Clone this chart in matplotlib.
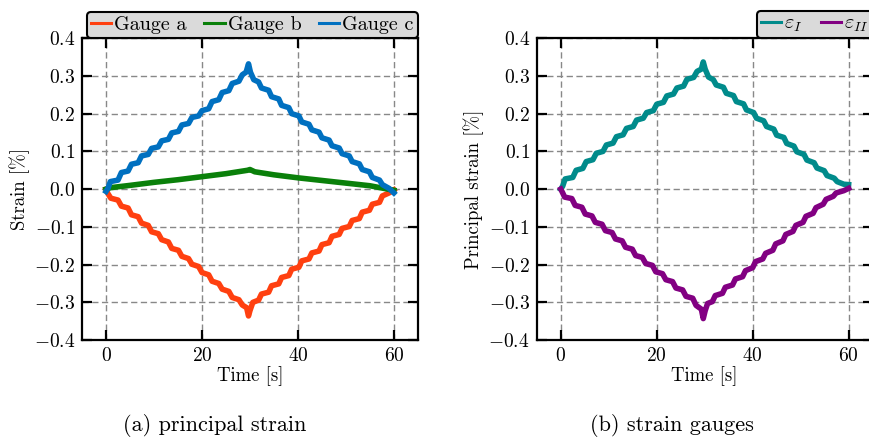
import matplotlib
matplotlib.use("Agg")
import matplotlib.pyplot as plt
from matplotlib.lines import Line2D

plt.rcParams['font.family'] = ['cmr10', 'DejaVu Serif']
plt.rcParams['mathtext.fontset'] = 'cm'
plt.rcParams['axes.formatter.use_mathtext'] = True
plt.rcParams['axes.unicode_minus'] = True

# Gauge a (time [s], strain [%])
t_a = [0, 0.4, 1.0, 2.5, 3.2, 4.6, 5.3, 6.7, 7.4, 8.8, 9.5, 10.9, 11.6, 13.0, 13.7,
       15.1, 15.8, 17.2, 17.9, 19.3, 20.0, 21.4, 22.1, 23.5, 24.2, 25.6, 26.3, 27.7,
       28.4, 29.3, 29.7, 30.0, 30.6, 31.8, 32.4, 33.9, 34.5, 36.0, 36.6, 38.1, 38.7,
       40.2, 40.8, 42.3, 42.9, 44.4, 45.0, 46.5, 47.1, 48.6, 49.2, 50.7, 51.3, 52.8,
       53.4, 54.9, 55.5, 57.0, 57.6, 59.0, 60.0]
v_a = [0.0, -0.012, -0.024, -0.029, -0.045, -0.050, -0.068, -0.073, -0.090, -0.096,
       -0.113, -0.118, -0.134, -0.140, -0.157, -0.162, -0.178, -0.184, -0.199, -0.205,
       -0.221, -0.227, -0.244, -0.250, -0.265, -0.271, -0.287, -0.293, -0.307, -0.314,
       -0.336, -0.322, -0.300, -0.294, -0.278, -0.273, -0.256, -0.251, -0.234, -0.229,
       -0.212, -0.207, -0.190, -0.185, -0.169, -0.164, -0.147, -0.142, -0.125, -0.120,
       -0.104, -0.099, -0.083, -0.078, -0.061, -0.056, -0.040, -0.035, -0.018, -0.010,
       -0.002]

# Gauge b
t_b = [0, 1, 5, 10, 15, 20, 25, 29.5, 30, 31, 35, 40, 45, 50, 55, 60]
v_b = [0.0, 0.004, 0.010, 0.018, 0.025, 0.033, 0.041, 0.050, 0.052, 0.046, 0.038,
       0.030, 0.023, 0.016, 0.009, -0.003]

# Gauge c
t_c = [0, 0.4, 0.9, 2.5, 3.2, 4.6, 5.3, 6.7, 7.4, 8.8, 9.5, 10.9, 11.6, 13.0, 13.7,
       15.1, 15.8, 17.2, 17.9, 19.3, 20.0, 21.4, 22.1, 23.5, 24.2, 25.6, 26.3, 27.7,
       28.4, 29.2, 29.7, 30.1, 30.8, 31.8, 32.4, 33.9, 34.5, 36.0, 36.6, 38.1, 38.7,
       40.2, 40.8, 42.3, 42.9, 44.4, 45.0, 46.5, 47.1, 48.6, 49.2, 50.7, 51.3, 52.8,
       53.4, 54.9, 55.5, 57.0, 57.6, 59.0, 60.0]
v_c = [-0.006, 0.002, 0.020, 0.024, 0.044, 0.048, 0.066, 0.070, 0.088, 0.092, 0.108,
       0.112, 0.128, 0.132, 0.149, 0.153, 0.170, 0.174, 0.190, 0.194, 0.208, 0.213,
       0.232, 0.237, 0.256, 0.261, 0.280, 0.286, 0.303, 0.310, 0.332, 0.310, 0.290,
       0.284, 0.268, 0.262, 0.245, 0.239, 0.222, 0.216, 0.200, 0.194, 0.178, 0.172,
       0.157, 0.151, 0.136, 0.130, 0.115, 0.109, 0.094, 0.088, 0.073, 0.067, 0.052,
       0.046, 0.031, 0.024, 0.012, 0.002, -0.010]

# principal strains
t_1 = [0, 0.4, 0.9, 2.5, 3.2, 4.6, 5.3, 6.7, 7.4, 8.8, 9.5, 10.9, 11.6, 13.0, 13.7,
       15.1, 15.8, 17.2, 17.9, 19.3, 20.0, 21.4, 22.1, 23.5, 24.2, 25.6, 26.3, 27.7,
       28.4, 29.3, 29.7, 30.1, 30.8, 31.8, 32.4, 33.9, 34.5, 36.0, 36.6, 38.1, 38.7,
       40.2, 40.8, 42.3, 42.9, 44.4, 45.0, 46.5, 47.1, 48.6, 49.2, 50.7, 51.3, 52.8,
       53.4, 54.9, 55.5, 57.0, 57.6, 59.0, 60.0]
v_1 = [0.0, 0.008, 0.027, 0.031, 0.050, 0.055, 0.073, 0.078, 0.095, 0.100, 0.117,
       0.122, 0.139, 0.144, 0.161, 0.166, 0.183, 0.188, 0.203, 0.208, 0.225, 0.230,
       0.247, 0.252, 0.268, 0.273, 0.291, 0.296, 0.312, 0.318, 0.337, 0.318, 0.297,
       0.290, 0.276, 0.270, 0.254, 0.248, 0.232, 0.226, 0.210, 0.203, 0.188, 0.181,
       0.166, 0.159, 0.143, 0.137, 0.121, 0.114, 0.099, 0.092, 0.077, 0.070, 0.056,
       0.049, 0.036, 0.029, 0.020, 0.013, 0.012]

t_2 = [0, 0.4, 0.8, 2.3, 3.0, 4.4, 5.1, 6.5, 7.2, 8.6, 9.3, 10.7, 11.4, 12.8, 13.5,
       14.9, 15.6, 17.0, 17.7, 19.1, 19.8, 21.2, 21.9, 23.3, 24.0, 25.4, 26.1, 27.5,
       28.2, 29.3, 29.7, 30.1, 30.6, 31.6, 32.2, 33.7, 34.3, 35.8, 36.4, 37.9, 38.5,
       40.0, 40.6, 42.1, 42.7, 44.2, 44.8, 46.3, 46.9, 48.4, 49.0, 50.5, 51.1, 52.6,
       53.2, 54.7, 55.3, 56.8, 57.4, 59.0, 60.0]
v_2 = [0.0, -0.010, -0.021, -0.025, -0.043, -0.048, -0.066, -0.071, -0.088, -0.093,
       -0.110, -0.115, -0.132, -0.137, -0.154, -0.159, -0.176, -0.181, -0.197, -0.202,
       -0.219, -0.224, -0.240, -0.245, -0.262, -0.267, -0.284, -0.289, -0.308, -0.318,
       -0.343, -0.322, -0.303, -0.298, -0.282, -0.276, -0.260, -0.254, -0.238, -0.232,
       -0.216, -0.208, -0.192, -0.185, -0.170, -0.162, -0.145, -0.137, -0.120, -0.112,
       -0.096, -0.088, -0.072, -0.064, -0.049, -0.040, -0.027, -0.019, -0.010, -0.004,
       0.002]

labels_left = ['Gauge a', 'Gauge b', 'Gauge c']
labels_right = [r'$\varepsilon_I$', r'$\varepsilon_{II}$']
colors_left = ['#ff4010', '#0a800a', '#0070c0']
colors_right = ['#008b8b', '#820082']
xticks = [0, 20, 40, 60]
yticks = [-0.4, -0.3, -0.2, -0.1, 0.0, 0.1, 0.2, 0.3, 0.4]

fig = plt.figure(figsize=(8.7, 4.44), dpi=100)
ax1 = fig.add_axes([0.0943, 0.234, 0.386, 0.680])
ax2 = fig.add_axes([0.617, 0.234, 0.386, 0.680])


def style_axes(ax):
    ax.set_xlim(-5, 65)
    ax.set_ylim(-0.4, 0.4)
    ax.set_xticks(xticks)
    ax.set_yticks(yticks)
    ax.grid(True, color='#888888', linestyle=(0, (4.5, 2.5)), linewidth=1.0, zorder=0)
    ax.set_axisbelow(True)
    ax.tick_params(direction='in', length=7, width=1.6, top=True, right=True,
                   labelsize=14, pad=5)
    for s in ax.spines.values():
        s.set_linewidth(1.6)
    ax.set_xlabel('Time [s]', fontsize=13.5, labelpad=1)


series_left = [(t_a, v_a), (t_b, v_b), (t_c, v_c)]
for (tt, vv), c in zip(series_left, colors_left):
    ax1.plot(tt, vv, color=c, lw=4, solid_joinstyle='round', zorder=3)
style_axes(ax1)
ax1.set_ylabel('Strain [%]', fontsize=13.5, labelpad=3)

series_right = [(t_1, v_1), (t_2, v_2)]
for (tt, vv), c in zip(series_right, colors_right):
    ax2.plot(tt, vv, color=c, lw=4, solid_joinstyle='round', zorder=3)
style_axes(ax2)
ax2.set_ylabel('Principal strain [%]', fontsize=13.5, labelpad=3)


def add_legend(ax, labels, colors):
    handles = [Line2D([], [], color=c, lw=2.2) for c in colors]
    leg = ax.legend(handles, labels, loc='lower right', bbox_to_anchor=(1.0, 1.0),
                    ncol=len(labels), fontsize=14.5, frameon=True, fancybox=True,
                    facecolor='#dadada', edgecolor='black', framealpha=1,
                    handlelength=1.0, handletextpad=0.15, columnspacing=0.9,
                    borderpad=0.2, borderaxespad=0.0)
    leg.get_frame().set_linewidth(1.5)


add_legend(ax1, labels_left, colors_left)
add_legend(ax2, labels_right, colors_right)

fig.text(0.247, 0.03, '(a) principal strain', ha='center', fontsize=16)
fig.text(0.772, 0.03, '(b) strain gauges', ha='center', fontsize=16)

fig.savefig('out.png', dpi=100)
